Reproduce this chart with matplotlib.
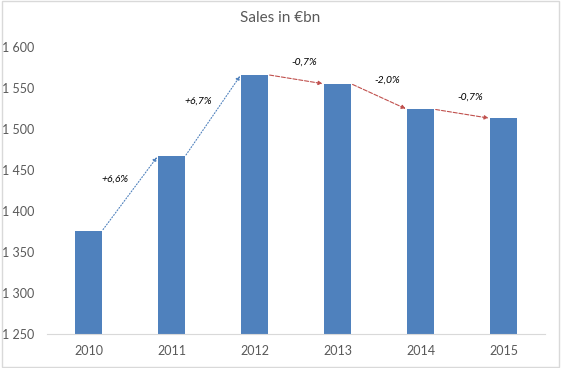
import matplotlib.pyplot as plt
from matplotlib.patches import Rectangle

plt.rcParams['font.family'] = ['Lato', 'DejaVu Sans']

years = ['2010', '2011', '2012', '2013', '2014', '2015']
sales = [1376, 1467, 1566, 1555, 1524, 1513]
yticks = [1250, 1300, 1350, 1400, 1450, 1500, 1550, 1600]

bar_color = '#4F81BD'
txt_color = '#595959'
width = 0.33

fig = plt.figure(figsize=(5.61, 3.68), dpi=100)
ax = fig.add_axes([0.0838, 0.0924, 0.888, 0.78])

x = list(range(len(years)))
ax.bar(x, sales, width=width, color=bar_color, zorder=2)

ax.set_xlim(-0.5, len(years) - 0.5)
ax.set_ylim(1250, 1600)
ax.set_yticks(yticks)
ax.set_yticklabels([f'{v // 1000} {v % 1000:03d}' for v in yticks])
ax.set_xticks(x)
ax.set_xticklabels(years)
ax.tick_params(axis='both', length=0, colors=txt_color, labelsize=9)
ax.tick_params(axis='y', pad=9)
ax.tick_params(axis='x', pad=8)
for s in ['top', 'right', 'left']:
    ax.spines[s].set_visible(False)
ax.spines['bottom'].set_color('#D9D9D9')

# growth arrows between bars
for i in range(len(sales) - 1):
    a, b = sales[i], sales[i + 1]
    pct = (b - a) / a * 100
    up = pct >= 0
    col = bar_color if up else '#C0504D'
    ls = ':' if up else '--'
    x0, x1 = i + width / 2, i + 1 - width / 2
    ax.annotate('', xy=(x1, b), xytext=(x0, a),
                arrowprops=dict(arrowstyle='-|>', color=col, lw=0.8,
                                linestyle=ls, mutation_scale=6,
                                shrinkA=1, shrinkB=1), zorder=3)
    label = f'{pct:+.1f}%'.replace('.', ',')
    mx, my = (x0 + x1) / 2, (a + b) / 2
    off = (-11, 10) if up else (6, 12)
    ax.annotate(label, xy=(mx, my), xytext=off, textcoords='offset points',
                ha='center', va='center', fontsize=7.5, style='italic',
                color='black')

fig.suptitle('Sales in €bn', x=0.5, y=0.97, fontsize=11, color=txt_color)
fig.patches.append(Rectangle((0.003, 0.003), 0.994, 0.994,
                             transform=fig.transFigure, fill=False,
                             edgecolor='#D9D9D9', lw=1))

fig.savefig('out.png', dpi=100)
